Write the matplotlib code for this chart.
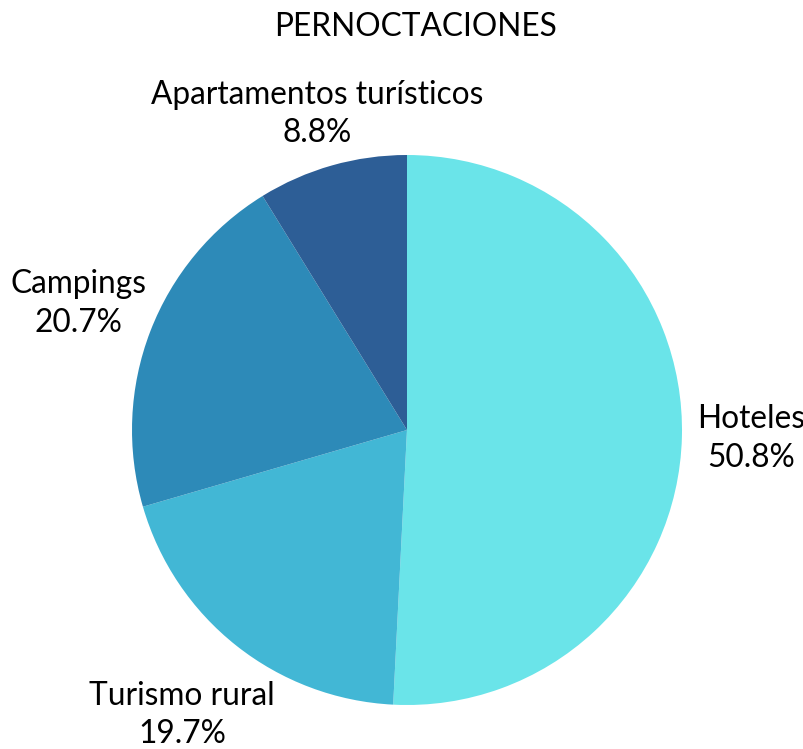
import numpy as np
import matplotlib.pyplot as plt

categories = ['Hoteles', 'Turismo rural', 'Campings', 'Apartamentos turísticos']
shares = [50.8, 19.7, 20.7, 8.8]
colors = ['#6ae4e9', '#42b7d5', '#2d8ab8', '#2d5e96']

# label distance (in radii) for each slice
label_r = [1.25, 1.32, 1.28, 1.195]

plt.rcParams['font.family'] = ['Lato', 'DejaVu Sans']

fig = plt.figure(figsize=(8.04, 7.49), dpi=100)
ax = fig.add_axes([0, 0, 1, 1])

wedges, _ = ax.pie(shares, colors=colors, startangle=90, counterclock=False,
                   radius=1, wedgeprops=dict(linewidth=0))

for w, name, val, r in zip(wedges, categories, shares, label_r):
    mid = np.deg2rad((w.theta1 + w.theta2) / 2)
    ax.text(r * np.cos(mid), r * np.sin(mid), f'{name}\n{val:.1f}%',
            ha='center', va='center', fontsize=22.8, linespacing=1.35)

ax.set_xlim(-407 / 275, (804 - 407) / 275)
ax.set_ylim(-(749 - 430) / 275, 430 / 275)
ax.set_aspect('auto')
ax.axis('off')

fig.text(416 / 804, 1 - 27 / 749, 'PERNOCTACIONES', ha='center', va='center', fontsize=22.8)

fig.savefig('out.png', dpi=100)
